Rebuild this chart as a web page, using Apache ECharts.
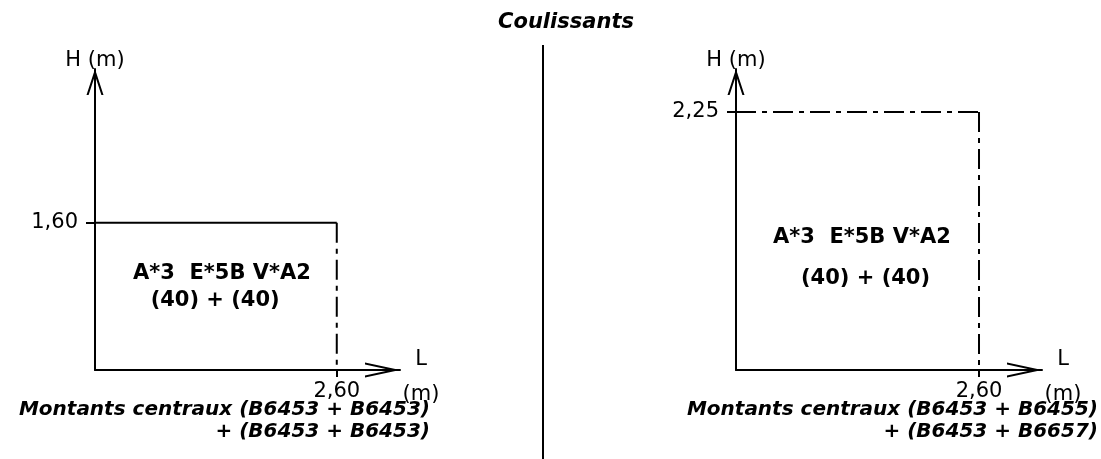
<!DOCTYPE html>
<html>
<head>
<meta charset="utf-8">
<script src="https://cdn.jsdelivr.net/npm/echarts@6/dist/echarts.min.js"></script>
<style>
  html, body { margin: 0; padding: 0; background: #fff; }
  #chart { width: 1101px; height: 459px; }
</style>
</head>
<body>
<div id="chart"></div>
<script>
// panel sizes (m): left = first diagram, right = second diagram
const panelWidths = [2.6, 2.6];
const panelHeights = [1.6, 2.25];
const widthLabels = ['2,60', '2,60'];
const heightLabels = ['1,60', '2,25'];
const profileLines = ['A*3  E*5B V*A2', 'A*3  E*5B V*A2'];
const valueLines = ['(40) + (40)', '(40) + (40)'];
const footLines = [
  ['Montants centraux (B6453 + B6453)', '+ (B6453 + B6453)'],
  ['Montants centraux (B6453 + B6455)', '+ (B6453 + B6657)']
];
const titleText = 'Coulissants';

const chart = echarts.init(document.getElementById('chart'));

// open arrow heads (thin chevrons), tip on top; path box = symbol size
// because axis symbols keep their aspect
const chevronX = 'path://M7.5,0 L15,35 L12.9,35 L7.5,9.6 L2.1,35 L0,35 Z';
const chevronY = 'path://M8.5,0 L17,26 L14.9,26 L8.5,6.4 L2.1,26 L0,26 Z';
const font = 'DejaVu Sans';
const dashDot = [20, 6, 5, 6];

// axis ranges and text anchors (fractions of the box) per panel
const axisMax = [{ x: 3.28, y: 3.27 }, { x: 3.274, y: 2.625 }];
const textAnchors = [
  [[0.525, 0.655], [0.497, 0.47]],
  [[0.518, 0.515], [0.533, 0.355]]
];

function makeX(i) {
  return {
    type: 'value', gridIndex: i, min: 0, max: axisMax[i].x,
    splitLine: { show: false },
    axisLine: {
      show: true, symbol: ['none', chevronX], symbolSize: [15, 35], symbolOffset: [0, -17.5],
      lineStyle: { color: '#000', width: 2 }
    },
    axisTick: { show: true, customValues: [panelWidths[i]], length: 7, lineStyle: { color: '#000', width: 2 } },
    axisLabel: {
      customValues: [panelWidths[i]], formatter: () => widthLabels[i], margin: 11,
      color: '#000', fontFamily: font, fontSize: 21
    },
    // "L" above, "(m)" below, block pushed a bit under the axis line
    name: '{s| }\n{t|L}\n{t|(m)}', nameLocation: 'end', nameGap: 21, nameMoveOverlap: false,
    nameTextStyle: {
      color: '#000', fontFamily: font, fontSize: 21, align: 'center',
      rich: {
        s: { fontSize: 9, lineHeight: 15, fontFamily: font },
        t: { fontSize: 21, lineHeight: 35, fontFamily: font, color: '#000', align: 'center' }
      }
    }
  };
}

function makeY(i) {
  return {
    type: 'value', gridIndex: i, min: 0, max: axisMax[i].y,
    splitLine: { show: false },
    axisLine: {
      show: true, symbol: ['none', chevronY], symbolSize: [17, 26], symbolOffset: [0, -13],
      lineStyle: { color: '#000', width: 2 }
    },
    axisTick: { show: true, customValues: [panelHeights[i]], length: 9, lineStyle: { color: '#000', width: 2 } },
    axisLabel: {
      customValues: [panelHeights[i]], formatter: () => heightLabels[i], margin: 17,
      color: '#000', fontFamily: font, fontSize: 21
    },
    name: 'H (m)', nameLocation: 'end', nameGap: -2, nameMoveOverlap: false,
    nameTextStyle: { color: '#000', fontFamily: font, fontSize: 21 }
  };
}

const series = [];
panelWidths.forEach((w, i) => {
  const h = panelHeights[i];
  // top edge: solid on the left panel, dash-dot on the right one
  series.push({
    type: 'line', xAxisIndex: i, yAxisIndex: i, symbol: 'none', silent: true,
    data: [[0, h], [w, h]],
    lineStyle: { color: '#000', width: 2, type: i === 0 ? 'solid' : dashDot }
  });
  series.push({
    type: 'line', xAxisIndex: i, yAxisIndex: i, symbol: 'none', silent: true,
    data: [[w, h], [w, 0]],
    lineStyle: { color: '#000', width: 2, type: dashDot }
  });
  // texts inside the box
  const lines = [profileLines[i], valueLines[i]];
  series.push({
    type: 'scatter', xAxisIndex: i, yAxisIndex: i, symbolSize: 0, silent: true,
    itemStyle: { opacity: 1 },
    data: textAnchors[i].map((a, k) => ({ value: [w * a[0], h * a[1]], text: lines[k] })),
    label: {
      show: true, position: [0, 0], align: 'center', verticalAlign: 'middle',
      formatter: p => p.data.text, opacity: 1,
      color: '#000', fontFamily: font, fontWeight: 'bold', fontSize: 21
    }
  });
});

const footStyle = { fill: '#000', fontFamily: font, fontWeight: 'bold', fontStyle: 'italic', fontSize: 20, lineHeight: 22, align: 'right', verticalAlign: 'top' };

chart.setOption({
  animation: false,
  backgroundColor: '#fff',
  grid: [
    { left: 95, top: 69, width: 305, height: 301 },
    { left: 736, top: 69, width: 306, height: 301 }
  ],
  xAxis: [makeX(0), makeX(1)],
  yAxis: [makeY(0), makeY(1)],
  series: series,
  graphic: [
    { type: 'text', style: { text: titleText, x: 566, y: 23, fill: '#000', fontFamily: font, fontWeight: 'bold', fontStyle: 'italic', fontSize: 21, align: 'center', verticalAlign: 'middle' } },
    { type: 'line', shape: { x1: 543, y1: 45, x2: 543, y2: 459 }, style: { stroke: '#000', lineWidth: 2 } },
    { type: 'text', style: Object.assign({ text: footLines[0].join('\n'), x: 430, y: 399 }, footStyle) },
    { type: 'text', style: Object.assign({ text: footLines[1].join('\n'), x: 1098, y: 399 }, footStyle) }
  ]
});
</script>
</body>
</html>
